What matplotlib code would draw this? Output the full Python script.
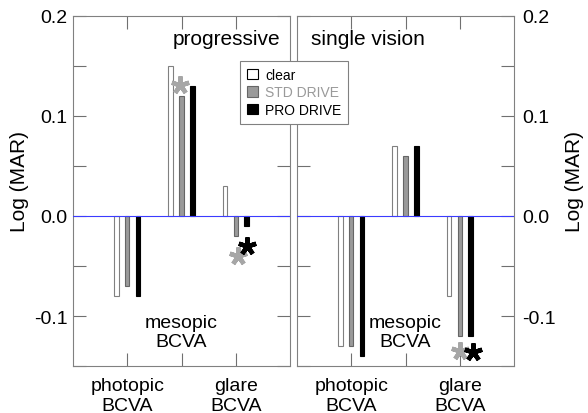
import numpy as np
import matplotlib
matplotlib.use("Agg")
import matplotlib.pyplot as plt
from matplotlib.patches import Patch
from matplotlib.ticker import MultipleLocator

plt.rcParams['font.family'] = ['Liberation Sans', 'DejaVu Sans']

groups = ["photopic\nBCVA", "mesopic\nBCVA", "glare\nBCVA"]
lenses = ["clear", "STD DRIVE", "PRO DRIVE"]

# log(MAR) change per lens, rows = lens, cols = group
progressive = [[-0.08, 0.15, 0.03],
               [-0.07, 0.12, -0.02],
               [-0.08, 0.13, -0.01]]
single_vision = [[-0.13, 0.07, -0.08],
                 [-0.13, 0.06, -0.12],
                 [-0.14, 0.07, -0.12]]

# significance stars: (x, y, colour index)
stars_prog = [(1.97, 0.131, 1), (3.04, -0.040, 1), (3.21, -0.030, 2)]
stars_sv = [(3.00, -0.135, 1), (3.24, -0.136, 2)]

face = ["white", "#9a9a9a", "black"]
edge = ["#808080", "#666666", "black"]
star_col = ["black", "#a6a6a6", "black"]
offsets = [-0.2, 0.0, 0.2]
W, H = 588, 414

fig = plt.figure(figsize=(W/100, H/100), dpi=100)
ax1 = fig.add_axes([73/W, 47/H, 217/W, 350/H])
ax2 = fig.add_axes([297/W, 47/H, 217/W, 350/H])

def panel(ax, vals, stars, title, tx, ha):
    x = np.arange(1, 4)
    for i in range(3):
        ax.bar(x + offsets[i], vals[i], width=0.08, color=face[i],
               edgecolor=edge[i], linewidth=0.8, zorder=2)
    ax.axhline(0, color="#3b3bff", lw=0.8, zorder=3)
    for sx, sy, c in stars:
        ax.plot(sx, sy, marker=(5, 2, 0), ms=13, mew=3.2,
                color=star_col[c], zorder=4)
    ax.set_xlim(0, 4)
    ax.set_ylim(-0.15, 0.2)
    ax.set_xticks([1, 2, 3])
    ax.set_xticklabels([groups[0], "", groups[2]], fontsize=14)
    ax.text(2, -0.116, groups[1], ha="center", va="center", fontsize=14)
    ax.text(tx, 0.937, title, transform=ax.transAxes, ha=ha,
            va="center", fontsize=15)
    ax.yaxis.set_major_locator(MultipleLocator(0.1))
    ax.yaxis.set_minor_locator(MultipleLocator(0.05))
    ax.tick_params(which="both", direction="in", length=9.5, width=0.8,
                   color="#707070", top=True, right=True, labelsize=14)
    ax.tick_params(axis="x", pad=8)
    for s in ax.spines.values():
        s.set_color("#808080")
        s.set_linewidth(0.8)

panel(ax1, progressive, stars_prog, "progressive", 0.954, "right")
panel(ax2, single_vision, stars_sv, "single vision", 0.065, "left")

fmt = lambda v, p: "%.1f" % v
ax1.yaxis.set_major_formatter(fmt)
ax1.tick_params(axis="y", pad=4)
ax1.set_ylabel("Log (MAR)", fontsize=15)
ax1.yaxis.set_label_coords(-0.205, 0.53)

ax2.yaxis.set_major_formatter(fmt)
ax2.tick_params(axis="y", labelleft=False, labelright=True, pad=6)
ax2.yaxis.set_label_position("right")
ax2.set_ylabel("Log (MAR)", fontsize=15)
ax2.yaxis.set_label_coords(1.237, 0.53)

handles = [Patch(facecolor=face[i], edgecolor=edge[i] if i else "black",
                 linewidth=0.8) for i in range(3)]
leg = fig.legend(handles, lenses, loc="upper left",
                 bbox_to_anchor=(240/W, 1 - 62/H), borderaxespad=0,
                 fontsize=10, handlelength=0.8, handleheight=0.8,
                 handletextpad=0.5, labelspacing=0.25, borderpad=0.5,
                 fancybox=False, framealpha=1, edgecolor="#808080",
                 labelcolor=["black", "#9a9a9a", "black"])
leg.get_frame().set_linewidth(0.8)

fig.savefig("out.png", dpi=100)
